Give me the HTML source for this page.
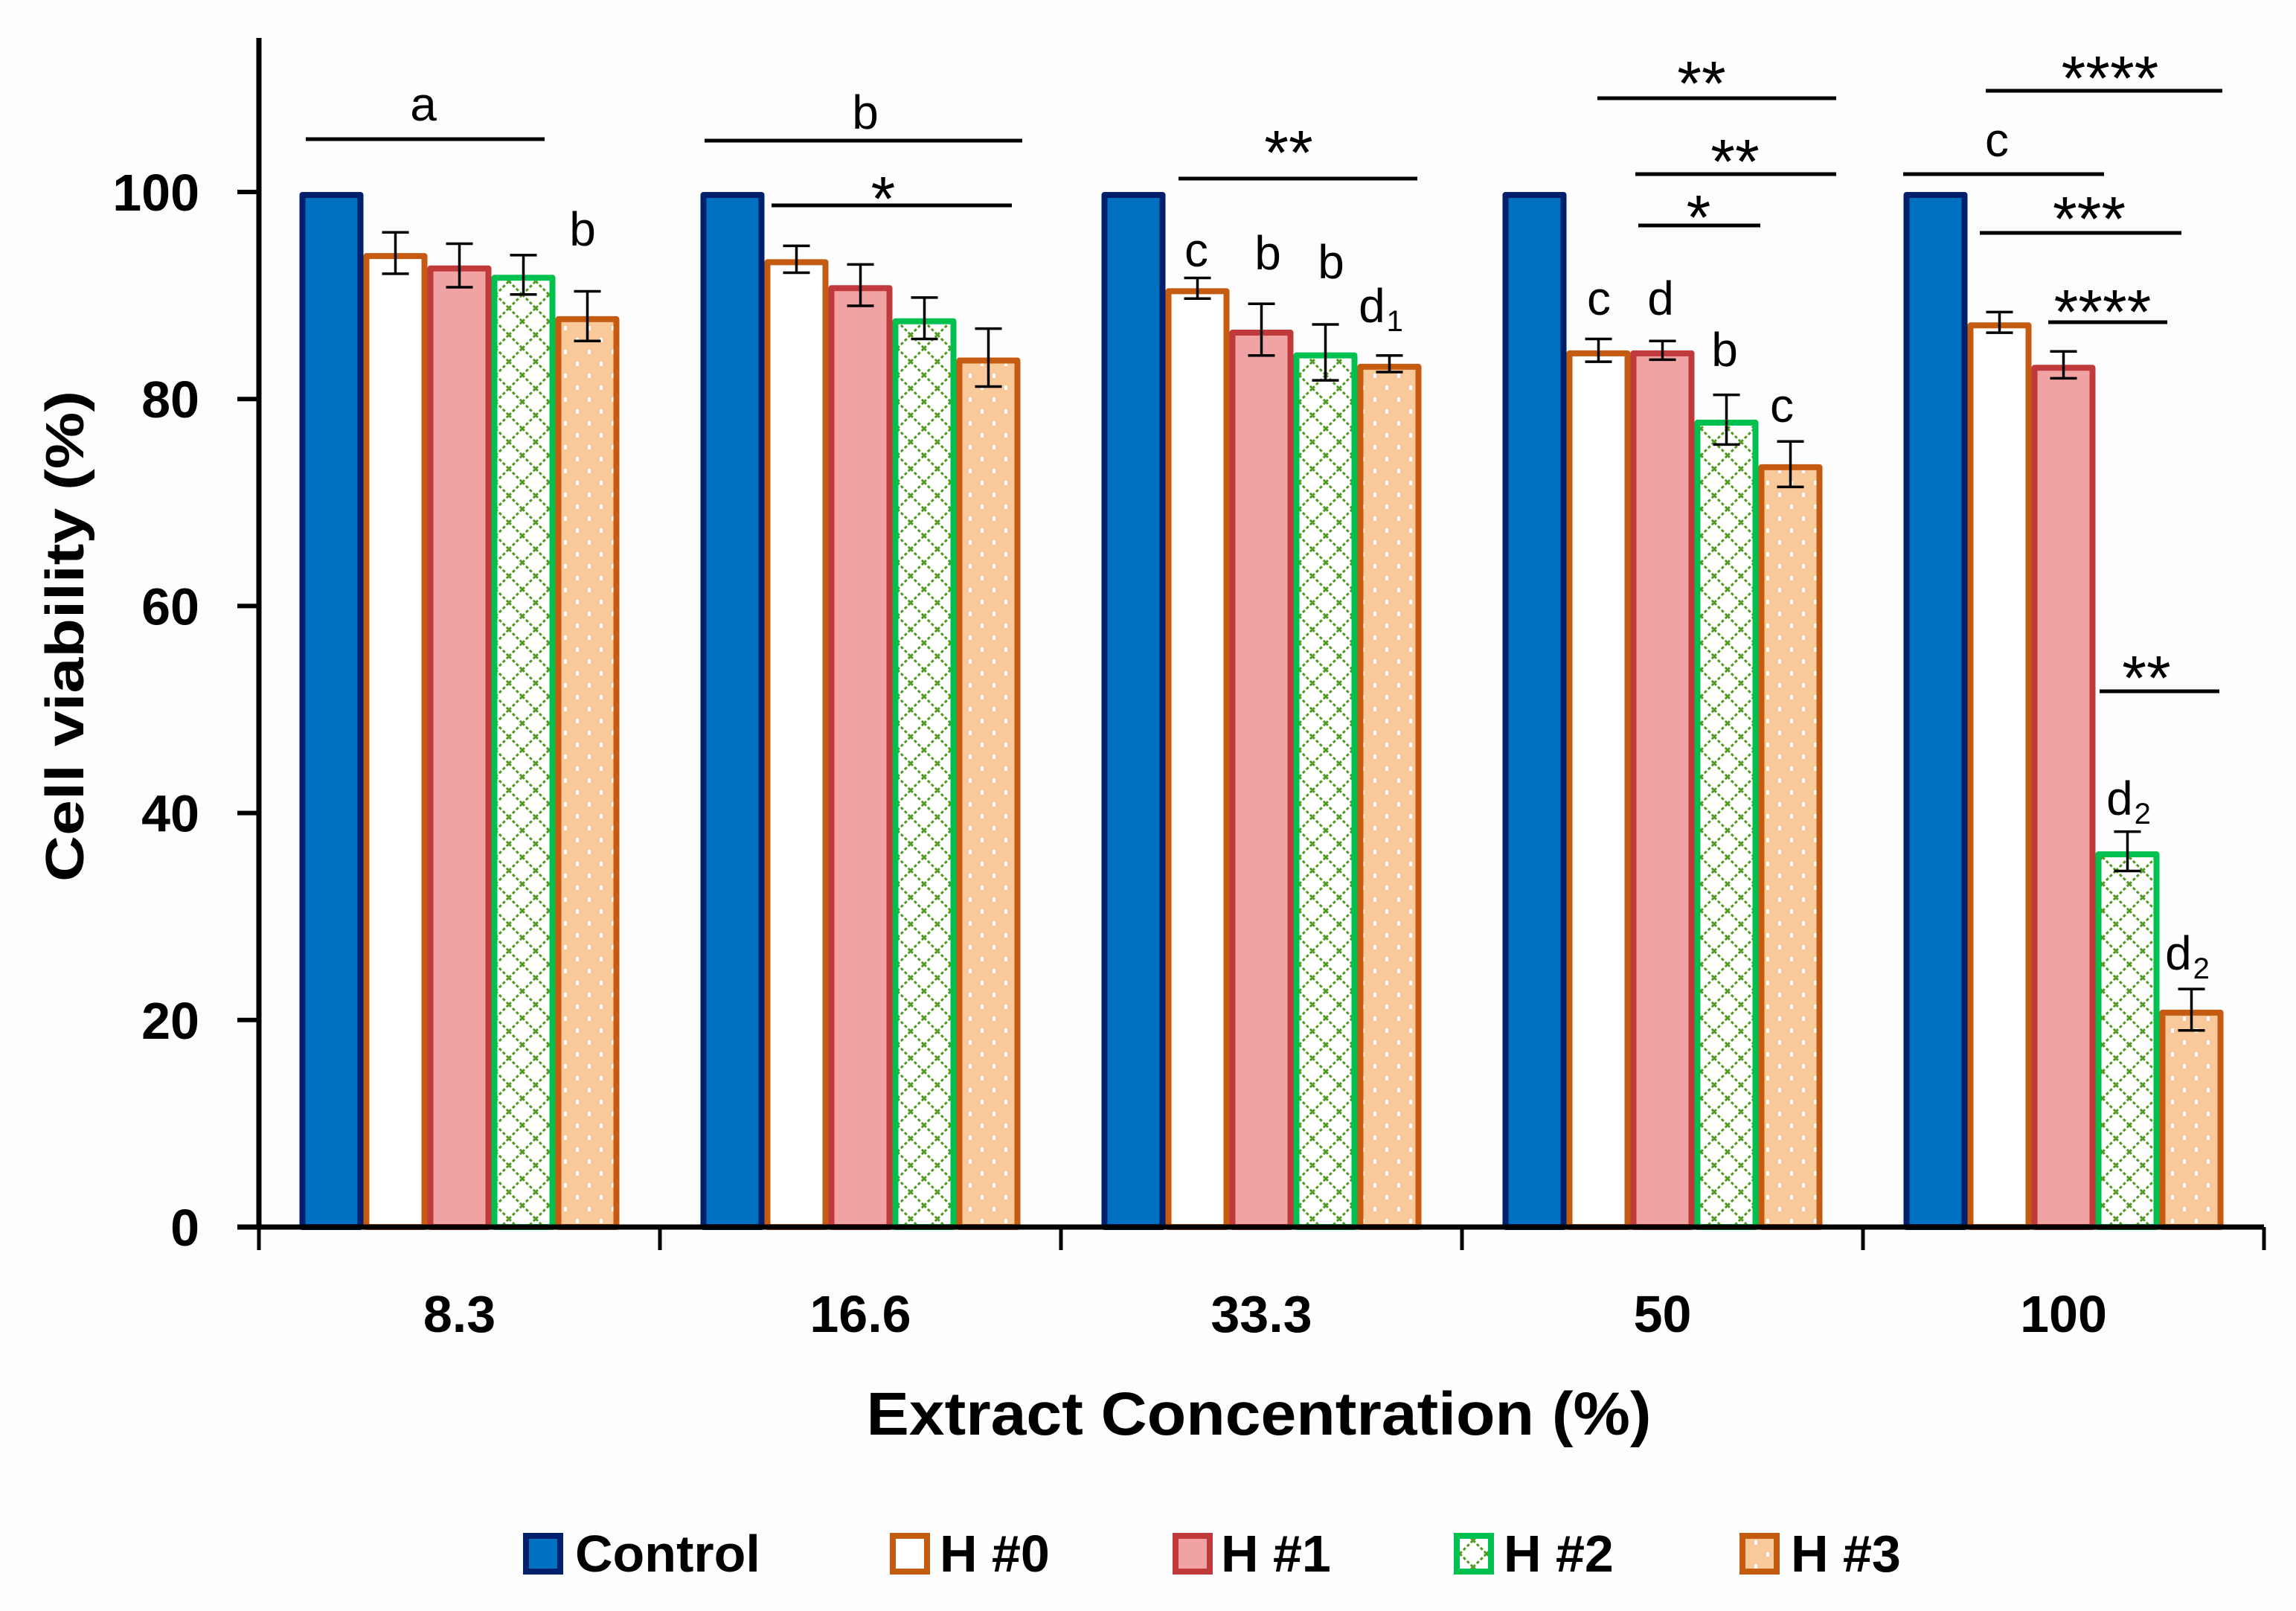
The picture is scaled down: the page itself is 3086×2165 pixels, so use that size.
<!DOCTYPE html>
<html><head><meta charset="utf-8"><style>
html,body{margin:0;padding:0;background:#fdfdfd;}
svg{display:block;}
text{font-family:"Liberation Sans",sans-serif;}
</style></head><body>
<svg id="chart" width="3086" height="2165" viewBox="0 0 3086 2165" xmlns="http://www.w3.org/2000/svg">
<defs>
<pattern id="hatch" patternUnits="userSpaceOnUse" width="36" height="36">
<rect width="36" height="36" fill="#ffffff"/>
<path d="M0 18 L18 0 M18 36 L36 18 M0 18 L18 36 M18 0 L36 18" stroke="#4f9a1e" stroke-width="3" stroke-dasharray="4 3" fill="none"/>
</pattern>
<pattern id="dots" patternUnits="userSpaceOnUse" width="32" height="32">
<rect width="32" height="32" fill="#f9c99a"/>
<rect x="6" y="6" width="4" height="6" fill="#ffffff"/>
<rect x="22" y="22" width="4" height="6" fill="#ffffff"/>
</pattern>
</defs>
<g id="bars"></g>
<g id="errs"></g>
<g id="axes"></g>
<g id="annots"></g>
<g id="legend"></g>
</svg>
<script>
const categories = ["8.3","16.6","33.3","50","100"];
const seriesNames = ["Control","H #0","H #1","H #2","H #3"];
const control = [100,100,100,100,100];
const h0 = [94.1,93.5,90.7,84.7,87.4];
const h1 = [92.9,91.0,86.7,84.7,83.3];
const h2 = [92.0,87.8,84.5,78.0,36.3];
const h3 = [88.0,84.0,83.4,73.7,21.0];
const err0 = [2.0,1.3,1.0,1.1,1.0];
const err1 = [2.1,2.0,2.5,0.9,1.3];
const err2 = [1.9,2.0,2.7,2.4,1.9];
const err3 = [2.4,2.8,0.8,2.2,2.0];
const yTicks = [0,20,40,60,80,100];

const NS="http://www.w3.org/2000/svg";
const svg=document.getElementById('chart');
function mk(tag,attrs,parent){const e=document.createElementNS(NS,tag);for(const k in attrs)e.setAttribute(k,attrs[k]);parent.appendChild(e);return e;}
const x0=348, groupW=539, bw=86, pad=(groupW-5*bw)/2;
const yBase=1649, yUnit=13.91;
function y(v){return yBase - v*yUnit;}
function xBar(g,i){return x0+g*groupW+pad+i*bw;}

const series=[control,h0,h1,h2,h3];
const errs=[null,err0,err1,err2,err3];
const fills=["#0070c0","#ffffff","#f0a3a2","url(#hatch)","url(#dots)"];
const strokes=["#00206b","#c55a11","#c0393b","#00c050","#c55a11"];
const barsG=document.getElementById('bars');
const errG=document.getElementById('errs');
for(let g=0;g<categories.length;g++){
  for(let i=0;i<5;i++){
    const v=series[i][g];
    const r=mk('rect',{x:xBar(g,i)+4,y:y(v)+4,width:bw-8,height:v*yUnit-4,fill:fills[i],stroke:strokes[i],'stroke-width':8,'stroke-linejoin':'round'},barsG);
    
    
    if(errs[i]){
      const e=errs[i][g], cx=xBar(g,i)+bw/2;
      const eg=mk('g',{stroke:'#000','stroke-width':3.5},errG);
      
      
      mk('line',{x1:cx,x2:cx,y1:y(v+e),y2:y(v-e)},eg);
      mk('line',{x1:cx-18,x2:cx+18,y1:y(v+e),y2:y(v+e)},eg);
      mk('line',{x1:cx-18,x2:cx+18,y1:y(v-e),y2:y(v-e)},eg);
    }
  }
}
const ax=document.getElementById('axes');
let l=mk('line',{x1:x0,x2:x0,y1:51,y2:yBase+3,stroke:'#000','stroke-width':7},ax);


l=mk('line',{x1:319,x2:x0+5*groupW,y1:yBase,y2:yBase,stroke:'#000','stroke-width':7},ax);


for(let g=0;g<=categories.length;g++){
  mk('line',{x1:x0+g*groupW,x2:x0+g*groupW,y1:yBase,y2:1680,stroke:'#000','stroke-width':5},ax);
}
for(let g=0;g<categories.length;g++){
  const t=mk('text',{x:x0+g*groupW+groupW/2,y:1790,'text-anchor':'middle','font-size':70,'font-weight':'bold',fill:'#000'},ax);
  t.textContent=categories[g];
  
  
}
yTicks.forEach(v=>{
  mk('line',{x1:319,x2:x0,y1:y(v),y2:y(v),stroke:'#000','stroke-width':6},ax);
  const t=mk('text',{x:268,y:y(v)+25,'text-anchor':'end','font-size':70,'font-weight':'bold',fill:'#000'},ax);
  t.textContent=v;
  
  
});
let t=mk('text',{x:1692,y:1928,'text-anchor':'middle','font-size':82,'font-weight':'bold',fill:'#000',textLength:1055,lengthAdjust:'spacingAndGlyphs'},ax);
t.textContent="Extract Concentration (%)";


t=mk('text',{x:0,y:0,'text-anchor':'middle','font-size':72,'font-weight':'bold',fill:'#000',textLength:660,lengthAdjust:'spacingAndGlyphs',transform:'translate(112,855) rotate(-90)'},ax);
t.textContent="Cell viability (%)";



const an=document.getElementById('annots');
const lines=[[411,732,187],[947,1374,189],[1037,1360,276],[1584,1905,240],[2147,2468,132],[2198,2468,234],[2202,2366,303],[2669,2987,122],[2558,2828,234],[2661,2932,313],[2753,2913,433],[2822,2983,929]];
lines.forEach(a=>{const e=mk('line',{x1:a[0],x2:a[1],y1:a[2],y2:a[2],stroke:'#000','stroke-width':5},an);

});
const labels=[["a",569,162,64],["b",783,330,64],["b",1163,173,64],["*",1187,296,84],["**",1732,234,84],["c",1608,358,64],["b",1704,362,64],["b",1789,374,64],["**",2287,141,84],["**",2332,246,84],["*",2283,321,84],["c",2149,423,64],["d",2232,423,64],["b",2318,492,64],["c",2395,567,64],["****",2836,134,84],["c",2684,210,64],["***",2808,323,84],["****",2826,448,84],["**",2885,940,84]];
labels.forEach(a=>{const e=mk('text',{x:a[1],y:a[2],'text-anchor':'middle','font-size':a[3],fill:'#000'},an);e.textContent=a[0];

});
const subs=[["1",1864,433],["2",2869,1095],["2",2948,1303]];
subs.forEach(a=>{const e=mk('text',{x:a[1]-8,y:a[2],'text-anchor':'middle','font-size':64,fill:'#000'},an);
e.textContent="d";
const s=mk('tspan',{'font-size':40,dx:2,dy:12},e);s.textContent=a[0];

});

const lg=document.getElementById('legend');
const legX=[[703,773],[1196,1263],[1576,1641],[1954,2021],[2338,2407]];
for(let i=0;i<5;i++){
  const gg=mk('g',{},lg);
  
  
  mk('rect',{x:legX[i][0]+4,y:2064,width:46,height:48,fill:fills[i],stroke:strokes[i],'stroke-width':8},gg);
  const tt=mk('text',{x:legX[i][1],y:2112,'font-size':70,'font-weight':'bold',fill:'#000'},gg);
  tt.textContent=seriesNames[i];
}
</script>
</body></html>
